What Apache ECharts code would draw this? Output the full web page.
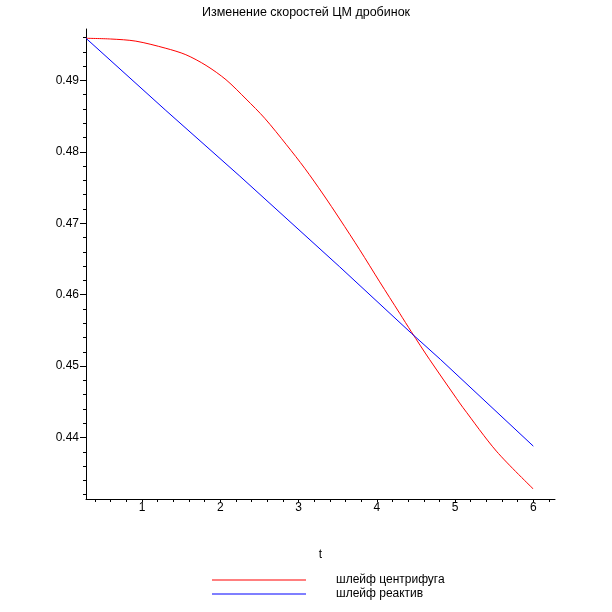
<!DOCTYPE html>
<html>
<head>
<meta charset="utf-8">
<script src="https://cdn.jsdelivr.net/npm/echarts@6/dist/echarts.min.js"></script>
<style>
  html, body { margin: 0; padding: 0; background: #fff; }
  #chart { width: 612px; height: 612px; }
</style>
</head>
<body>
<div id="chart"></div>
<script>
// values
const redT = [0.284, 0.6, 0.921, 1.304, 1.56, 1.818, 2.073, 2.329, 2.568, 2.845, 3.079, 3.312, 3.526, 3.781, 4.037, 4.292, 4.442, 4.676, 5.017, 5.101, 5.528, 6.0];
const redV = [0.4959, 0.4958, 0.4955, 0.4945, 0.4936, 0.4921, 0.4901, 0.4874, 0.4847, 0.4810, 0.4777, 0.4741, 0.4706, 0.4663, 0.4618, 0.4574, 0.4548, 0.4509, 0.4455, 0.4442, 0.4381, 0.4328];
const blueT = [0.284, 1.304, 2.25, 3.526, 4.442, 4.817, 6.0];
const blueV = [0.4959, 0.4858, 0.4766, 0.4639, 0.4546, 0.4509, 0.4388];

const xMajor = [1, 2, 3, 4, 5, 6];
const xMinor = [0.4, 0.6, 0.8, 1.2, 1.4, 1.6, 1.8, 2.2, 2.4, 2.6, 2.8, 3.2, 3.4, 3.6, 3.8, 4.2, 4.4, 4.6, 4.8, 5.2, 5.4, 5.6, 5.8, 6.2];
const yMajor = [0.44, 0.45, 0.46, 0.47, 0.48, 0.49];
const yMinor = [0.432, 0.434, 0.436, 0.438, 0.442, 0.444, 0.446, 0.448, 0.452, 0.454, 0.456, 0.458, 0.462, 0.464, 0.466, 0.468, 0.472, 0.474, 0.476, 0.478, 0.482, 0.484, 0.486, 0.488, 0.492, 0.494, 0.496];

const seriesNames = ['шлейф центрифуга', 'шлейф реактив'];
const font = "'Liberation Sans', Arial, sans-serif";

const chart = echarts.init(document.getElementById('chart'));

const xRange = { min: 0.284, max: 6.277 };
const yRange = { min: 0.4314, max: 0.4972 };

const option = {
  animation: false,
  backgroundColor: '#fff',
  title: {
    text: 'Изменение скоростей ЦМ дробинок',
    left: 'center',
    top: 1,
    textStyle: { fontFamily: font, fontSize: 12.5, fontWeight: 'normal', color: '#000' }
  },
  legend: {
    orient: 'vertical',
    left: 212,
    top: 573,
    padding: 0,
    itemWidth: 94,
    itemHeight: 1,
    itemGap: 0,
    icon: 'rect',
    data: seriesNames,
    textStyle: { fontFamily: font, fontSize: 12, color: '#000', lineHeight: 12, padding: [2, 0, 0, 25] }
  },
  grid: { left: 86, right: 57, top: 29, bottom: 113 },
  xAxis: [
    {
      type: 'value',
      min: xRange.min,
      max: xRange.max,
      name: 't',
      nameLocation: 'middle',
      nameGap: 50,
      nameTextStyle: { fontFamily: font, fontSize: 12, color: '#000' },
      axisLine: { show: true, onZero: false, lineStyle: { color: '#000', width: 1 } },
      axisTick: { show: true, customValues: xMajor, length: 3, lineStyle: { color: '#000' } },
      axisLabel: { customValues: xMajor, margin: 3, fontFamily: font, fontSize: 12, color: '#000' },
      splitLine: { show: false }
    },
    {
      type: 'value',
      position: 'bottom',
      min: xRange.min,
      max: xRange.max,
      axisLine: { show: false, onZero: false },
      axisTick: { show: true, customValues: xMinor, length: 3, lineStyle: { color: '#000' } },
      axisLabel: { show: false },
      splitLine: { show: false }
    }
  ],
  yAxis: [
    {
      type: 'value',
      min: yRange.min,
      max: yRange.max,
      axisLine: { show: true, onZero: false, lineStyle: { color: '#000', width: 1 } },
      axisTick: { show: true, customValues: yMajor, length: 6, lineStyle: { color: '#000' } },
      axisLabel: {
        customValues: yMajor,
        margin: 7,
        fontFamily: font,
        fontSize: 12,
        color: '#000',
        formatter: v => v.toFixed(2)
      },
      splitLine: { show: false }
    },
    {
      type: 'value',
      position: 'left',
      min: yRange.min,
      max: yRange.max,
      axisLine: { show: false, onZero: false },
      axisTick: { show: true, customValues: yMinor, length: 3, lineStyle: { color: '#000' } },
      axisLabel: { show: false },
      splitLine: { show: false }
    }
  ],
  series: [
    {
      name: seriesNames[0],
      type: 'line',
      data: redT.map((t, i) => [t, redV[i]]),
      smooth: 0.3,
      symbol: 'none',
      lineStyle: { color: '#ff0000', width: 1 },
      itemStyle: { color: '#ff0000' }
    },
    {
      name: seriesNames[1],
      type: 'line',
      data: blueT.map((t, i) => [t, blueV[i]]),
      symbol: 'none',
      lineStyle: { color: '#0000ff', width: 1 },
      itemStyle: { color: '#0000ff' }
    }
  ]
};

chart.setOption(option);
</script>
</body>
</html>
